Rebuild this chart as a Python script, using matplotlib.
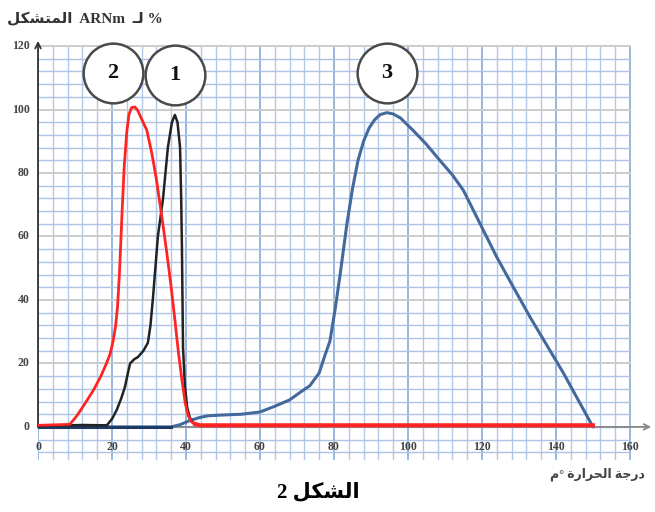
import matplotlib
matplotlib.use("Agg")
import matplotlib.pyplot as plt
import numpy as np

# ---- data ----
x_tick_values = [0, 20, 40, 60, 80, 100, 120, 140, 160]
y_tick_values = [0, 20, 40, 60, 80, 100, 120]

# curve 2 (red)
red_x = [0, 8.6, 10.5, 12.5, 15, 17, 18.5, 19.5, 20.3, 21, 21.5, 22, 22.7, 23.3, 24,
         24.6, 25.3, 26.2, 27, 28, 29.4, 30.8, 32, 33.5, 34.8, 36, 37, 38, 38.9,
         39.8, 40.6, 41.5, 42.5, 43.8, 150]
red_y = [0.5, 0.8, 3.5, 7, 11.6, 16, 20, 23, 27, 32, 38, 48, 67, 82, 93,
         98.5, 100.6, 100.8, 99.6, 97, 93.5, 86, 78, 66, 55, 44, 33.7, 23, 14.8,
         7.5, 3.5, 1.6, 0.9, 0.5, 0.5]

# curve 1 (black)
black_x = [0, 12, 18.6, 20, 21.3, 22.5, 23.5, 24.3, 24.9, 26, 27, 28.5, 29.7, 30.4,
           31.1, 32.4, 33.8, 35.1, 36.2, 37, 37.7, 38.4, 38.7, 38.9, 39.2, 39.7,
           40.3, 41, 41.9, 44]
black_y = [0.3, 0.6, 0.5, 2.5, 5.4, 9, 12.6, 17, 20, 21.3, 22, 24, 26.5, 32,
           41, 60, 72, 88, 96, 98.3, 96, 88, 72, 56.7, 25, 13,
           6.3, 3, 1.2, 0.3]

# curve 3 (blue)
blue_x = [0, 36, 38.4, 41, 43.8, 46, 49, 55, 60, 64, 68, 71, 73.5, 76, 77.6, 78.9,
          80.3, 81.6, 83.5, 85, 86.5, 88, 89.5, 91, 92.5, 94.3, 96, 98, 100, 101.4,
          105, 108.6, 112, 115, 119.5, 124, 128.5, 133, 137.5, 142, 146, 150]
blue_y = [0, 0, 0.7, 2, 3, 3.5, 3.7, 4, 4.7, 6.5, 8.5, 11, 13, 17, 22.7, 27,
          37, 47.5, 64, 75, 84, 90, 94.2, 96.8, 98.4, 99, 98.6, 97.3, 95, 93.4,
          89, 84, 79.4, 74.5, 64, 53.5, 44, 34.6, 25.8, 17, 8.5, 0]

# circled curve labels
label_names = ["2", "1", "3"]
label_x = [20.3, 37.0, 94.3]
label_y = [111.5, 111.0, 111.5]

# texts (Arabic in visual order, presentation forms)
y_title = "\uFEDE\uFEDC\uFEB8\uFE98\uFEE4\uFEDF\uFE8D  ARNm  \u0640\uFEDF %"
x_title = "\uFEE1\u00B0 \uFE93\uFEAD\uFE8D\uFEAE\uFEA4\uFEDF\uFE8D \uFE94\uFE9F\uFEAD\uFEA9"
fig_title = "2 \uFEDE\uFEDC\uFEB8\uFEDF\uFE8D"

FONT = ["Liberation Serif", "DejaVu Sans"]

fig = plt.figure(figsize=(6.55, 5.12), dpi=100)
ax = fig.add_axes([38 / 655, (512 - 465) / 512, 616 / 655, (465 - 36.5) / 512])
ax.set_xlim(0, 166.5)
ax.set_ylim(-12, 123)
for s in ax.spines.values():
    s.set_visible(False)
ax.set_xticks([])
ax.set_yticks([])

# graph-paper grid
for gx in np.arange(0, 161, 4):
    major = gx % 20 == 0
    ax.plot([gx, gx], [-10, 120], color="#86a9da" if major else "#b3c9ea",
            lw=1.2 if major else 1.0, zorder=1)
for gy in np.arange(-8, 121, 4):
    if gy % 20 == 0 and gy > 0:
        ax.plot([0, 160], [gy, gy], color="#cccccc", lw=1.4, zorder=1)
    else:
        ax.plot([0, 160], [gy, gy], color="#adc4e6", lw=1.0, zorder=1)

# axes with arrows
ax.annotate("", xy=(166.5, 0), xytext=(0, 0),
            arrowprops=dict(arrowstyle="->", color="#888888", lw=1.3), zorder=3)
ax.annotate("", xy=(0, 122.5), xytext=(0, -1),
            arrowprops=dict(arrowstyle="->", color="#333333", lw=1.3),
            annotation_clip=False, zorder=3)

# curves
ax.plot(blue_x, blue_y, color="#44699c", lw=2.2, zorder=4, solid_capstyle="round")
ax.plot([0, 36], [0, 0], color="#1f3a62", lw=2.2, zorder=4)
ax.plot(black_x, black_y, color="#222222", lw=1.8, zorder=5)
ax.plot(red_x, red_y, color="#ff2424", lw=2.0, zorder=6)
ax.plot(red_x[-3:], red_y[-3:], color="#ff2424", lw=3.0, zorder=6)

# circled labels
for name, lx, ly in zip(label_names, label_x, label_y):
    ax.plot([lx], [ly], marker="o", ms=43, mfc="white", mec="#4a4a4a", mew=1.8,
            clip_on=False, zorder=7)
    ax.text(lx, ly, name, ha="center", va="center", fontsize=16, fontweight="bold",
            family=FONT, color="#111111", zorder=8, clip_on=False)

# tick labels
for tv in x_tick_values:
    ax.text(tv, -6.3, str(tv), ha="center", va="center", fontsize=8.5,
            family=FONT, color="#444444", fontweight="bold")
for tv in y_tick_values:
    ax.text(-2.2, tv, str(tv), ha="right", va="center", fontsize=8.5,
            family=FONT, color="#444444", fontweight="bold", clip_on=False)

# titles
fig.text(7 / 655, 1 - 19 / 512, y_title, ha="left", va="center", fontsize=11,
         family=FONT, fontweight="bold", color="#333333")
fig.text(597 / 655, 1 - 474 / 512, x_title, ha="center", va="center", fontsize=9,
         family=FONT, fontweight="bold", color="#444444")
fig.text(318 / 655, 1 - 492 / 512, fig_title, ha="center", va="center", fontsize=15,
         family=FONT, fontweight="bold", color="#000000")

fig.savefig("out.png", dpi=100)
